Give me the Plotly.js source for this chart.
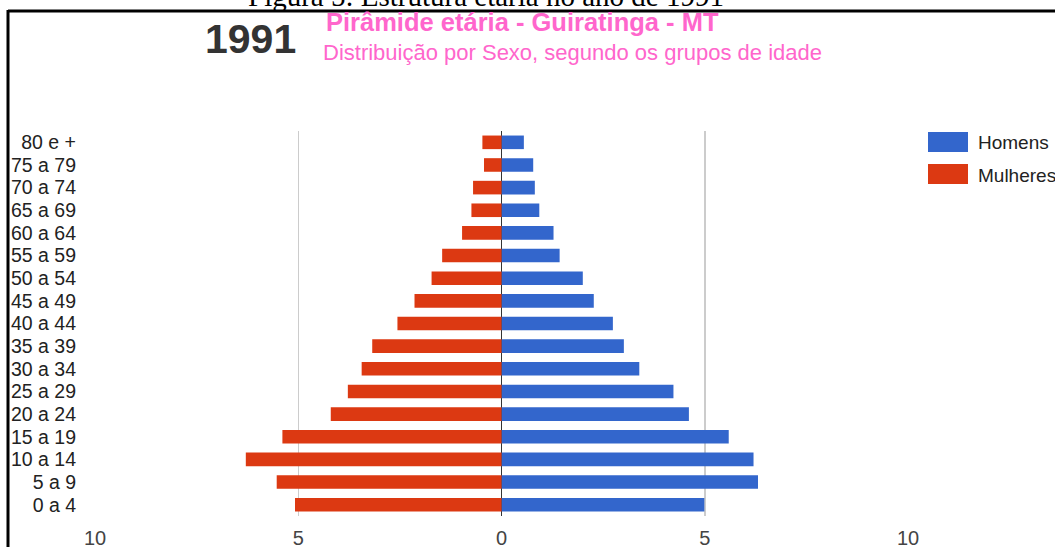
<!DOCTYPE html>
<html>
<head>
<meta charset="utf-8">
<script src="https://cdn.plot.ly/plotly-3.0.1.min.js"></script>
<style>
  html, body { margin: 0; padding: 0; background: #fff; }
  #chart { width: 1055px; height: 547px; }
</style>
</head>
<body>
<div id="chart"></div>
<script>
// Age groups (bottom to top)
const ageGroups = ["0 a 4", "5 a 9", "10 a 14", "15 a 19", "20 a 24", "25 a 29", "30 a 34",
  "35 a 39", "40 a 44", "45 a 49", "50 a 54", "55 a 59", "60 a 64", "65 a 69",
  "70 a 74", "75 a 79", "80 e +"];
// Percent of population
const homens = [4.99, 6.31, 6.20, 5.59, 4.61, 4.23, 3.39, 3.01, 2.74, 2.27, 2.00, 1.43, 1.28, 0.93, 0.82, 0.78, 0.55];
const mulheres = [5.08, 5.53, 6.29, 5.39, 4.20, 3.78, 3.44, 3.18, 2.56, 2.14, 1.72, 1.46, 0.97, 0.74, 0.70, 0.43, 0.47];
const xTickVals = [-10, -5, 0, 5, 10];
const xTickText = ["10", "5", "0", "5", "10"];
const seriesNames = ["Homens", "Mulheres"];
const seriesColors = ["#3366cc", "#dc3912"];

const FONT = "Arial, 'Liberation Sans', sans-serif";

const traces = [
  {
    type: "bar", orientation: "h", name: seriesNames[0],
    y: ageGroups, x: homens,
    marker: { color: seriesColors[0] }, width: 0.6,
    showlegend: false, hoverinfo: "y+x"
  },
  {
    type: "bar", orientation: "h", name: seriesNames[1],
    y: ageGroups, x: mulheres.map(v => -v),
    marker: { color: seriesColors[1] }, width: 0.6,
    showlegend: false, hoverinfo: "y+text", text: mulheres.map(String), textposition: "none"
  }
];

// helpers for converting pixel positions to paper coords (layout only)
const L = 95, R = 908, T = 131, B = 516;
const px = x => (x - L) / (R - L);
const py = y => (B - y) / (B - T);

const layout = {
  width: 1055, height: 547,
  margin: { l: L, r: 1055 - R, t: T, b: 547 - B, pad: 0 },
  paper_bgcolor: "#fff", plot_bgcolor: "#fff",
  barmode: "relative",
  font: { family: FONT, color: "#222", size: 17 },
  xaxis: {
    range: [-10, 10], tickmode: "array", tickvals: xTickVals, ticktext: xTickText,
    showgrid: true, gridcolor: "#cccccc", gridwidth: 1.5,
    zeroline: true, zerolinecolor: "#333", zerolinewidth: 1.5,
    showline: false, ticks: "",
    ticklabelstandoff: 8,
    tickfont: { family: FONT, size: 20, color: "#444" },
    fixedrange: true
  },
  yaxis: {
    type: "category", range: [-0.5, 16.5],
    tickmode: "array", tickvals: ageGroups, ticktext: ageGroups,
    showgrid: false, zeroline: false, showline: false, ticks: "",
    ticklabelstandoff: 18,
    tickfont: { family: FONT, size: 19.5, color: "#222" },
    fixedrange: true
  },
  shapes: [
    // frame lines
    { type: "line", xref: "paper", yref: "paper", x0: px(8), x1: px(1060), y0: py(11), y1: py(11), line: { color: "#000", width: 3 } },
    { type: "line", xref: "paper", yref: "paper", x0: px(8), x1: px(8), y0: py(10), y1: py(560), line: { color: "#000", width: 3 } },
    // legend swatches
    { type: "rect", xref: "paper", yref: "paper", x0: px(928), x1: px(968), y0: py(152), y1: py(132), fillcolor: seriesColors[0], line: { width: 0 } },
    { type: "rect", xref: "paper", yref: "paper", x0: px(928), x1: px(968), y0: py(184), y1: py(164), fillcolor: seriesColors[1], line: { width: 0 } }
  ],
  annotations: [
    { text: "Figura 5: Estrutura etária no ano de 1991", xref: "paper", yref: "paper", x: px(486), y: py(14), xanchor: "center", yanchor: "bottom", showarrow: false,
      font: { family: "'Liberation Serif', 'Times New Roman', serif", size: 29, color: "#000" } },
    { text: "<b>1991</b>", xref: "paper", yref: "paper", x: px(298), y: py(39), xanchor: "right", yanchor: "middle", showarrow: false,
      font: { family: FONT, size: 41, color: "#333" } },
    { text: "<b>Pirâmide etária - Guiratinga - MT</b>", xref: "paper", yref: "paper", x: px(324), y: py(22), xanchor: "left", yanchor: "middle", showarrow: false,
      font: { family: FONT, size: 25.5, color: "#ff66cc" } },
    { text: "Distribuição por Sexo, segundo os grupos de idade", xref: "paper", yref: "paper", x: px(321), y: py(52), xanchor: "left", yanchor: "middle", showarrow: false,
      font: { family: FONT, size: 22, color: "#ff66cc" } },
    { text: seriesNames[0], xref: "paper", yref: "paper", x: px(976), y: py(142), xanchor: "left", yanchor: "middle", showarrow: false,
      font: { family: FONT, size: 19, color: "#222" } },
    { text: seriesNames[1], xref: "paper", yref: "paper", x: px(976), y: py(175), xanchor: "left", yanchor: "middle", showarrow: false,
      font: { family: FONT, size: 19, color: "#222" } }
  ]
};

Plotly.newPlot("chart", traces, layout, { displayModeBar: false, staticPlot: true });
</script>
</body>
</html>
